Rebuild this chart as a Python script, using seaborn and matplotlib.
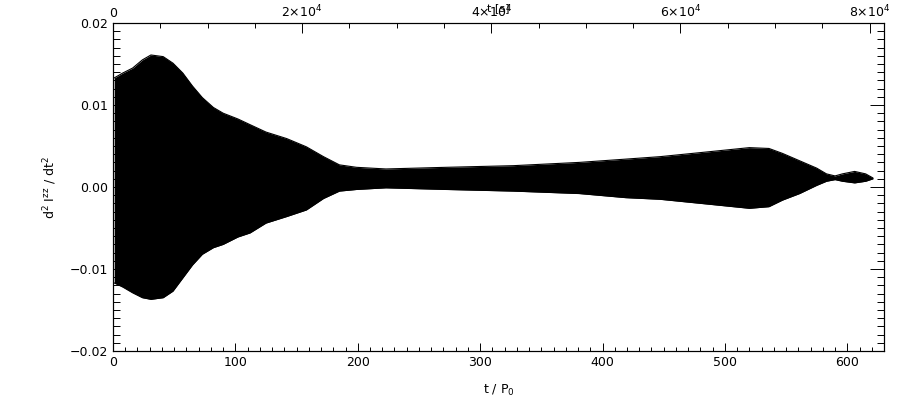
import numpy as np
import pandas as pd
import matplotlib
matplotlib.use('Agg')
import matplotlib.pyplot as plt
from matplotlib.ticker import MultipleLocator, FuncFormatter
import seaborn as sns

# envelope of the d2I/dt2 signal
t_p0 = [1, 8, 16, 24, 31, 41, 49, 57, 65, 73, 82, 90, 102, 112, 125, 142, 158, 172,
        185, 199, 223, 272, 327, 381, 419, 447, 487, 520, 536, 547, 561, 575, 583,
        590, 596, 606, 615, 621]
upper = [0.0133, 0.0139, 0.0145, 0.0155, 0.0161, 0.0159, 0.0151, 0.0139, 0.0123,
         0.0109, 0.0097, 0.0090, 0.0083, 0.0076, 0.0067, 0.0059, 0.0049, 0.0037,
         0.0027, 0.0024, 0.0022, 0.0024, 0.0026, 0.0030, 0.0034, 0.0037, 0.0043,
         0.0048, 0.0047, 0.0041, 0.0032, 0.0023, 0.0016, 0.00135, 0.0016, 0.0019,
         0.0016, 0.0011]
lower = [-0.0117, -0.0122, -0.0129, -0.0135, -0.0137, -0.0135, -0.0127, -0.0111,
         -0.0095, -0.0082, -0.0074, -0.0070, -0.0061, -0.0056, -0.0044, -0.0036,
         -0.0028, -0.0014, -0.0005, -0.0003, -0.0001, -0.0003, -0.0005, -0.0008,
         -0.0013, -0.0015, -0.0021, -0.0026, -0.0024, -0.0016, -0.0008, 0.0002,
         0.0007, 0.0009, 0.0007, 0.0005, 0.0007, 0.0010]

P0 = 129.4  # seconds per orbital period (top axis conversion)
t_max = 630

df = pd.DataFrame({'t': t_p0, 'upper': upper, 'lower': lower})

sns.set_style('ticks')
plt.rcParams['font.family'] = ['DejaVu Sans']
plt.rcParams['mathtext.default'] = 'regular'
plt.rcParams['font.size'] = 9
for k in ['text.color', 'axes.labelcolor', 'xtick.color', 'ytick.color', 'axes.edgecolor']:
    plt.rcParams[k] = 'black'

fig = plt.figure(figsize=(9, 4), dpi=100)
ax = fig.add_axes([113 / 900, 49 / 400, 771 / 900, 328 / 400])

ax.fill_between(df['t'], df['lower'], df['upper'], color='black', linewidth=0)
sns.lineplot(data=df, x='t', y='upper', ax=ax, color='black', linewidth=0.8)
sns.lineplot(data=df, x='t', y='lower', ax=ax, color='black', linewidth=0.8)

ax.set_xlim(0, t_max)
ax.set_ylim(-0.02, 0.02)
ax.xaxis.set_major_locator(MultipleLocator(100))
ax.xaxis.set_minor_locator(MultipleLocator(10))
ax.yaxis.set_major_locator(MultipleLocator(0.01))
ax.yaxis.set_minor_locator(MultipleLocator(0.001))
ax.yaxis.set_major_formatter(FuncFormatter(lambda v, p: f'{v:.2f}'.replace('-', '\u2212')))

ax.tick_params(axis='x', which='major', direction='in', length=5.8, width=0.7, top=False)
ax.tick_params(axis='x', which='minor', direction='in', length=2.9, width=0.7, top=False)
ax.tick_params(axis='y', which='major', direction='in', length=10, width=0.7, right=True)
ax.tick_params(axis='y', which='minor', direction='in', length=5, width=0.7, right=True)
for s in ax.spines.values():
    s.set_linewidth(0.8)
    s.set_visible(True)

ax.set_xlabel('t / P$_0$')
ax.set_ylabel('d$^2$ I$^{zz}$ / dt$^2$')
ax.xaxis.set_label_coords(0.5, -0.098)
ax.yaxis.set_label_coords(-0.07, 0.5)

# top axis in seconds
ax2 = ax.twiny()
ax2.set_xlim(0, t_max * P0)
ax2.xaxis.set_major_locator(MultipleLocator(20000))
ax2.xaxis.set_minor_locator(MultipleLocator(5000))


def sec_fmt(v, p):
    if v == 0:
        return '0'
    return r'$%d{\times}10^{4}$' % round(v / 1e4)


ax2.xaxis.set_major_formatter(FuncFormatter(sec_fmt))
ax2.tick_params(axis='x', which='major', direction='in', length=7, width=0.7, pad=2)
ax2.tick_params(axis='x', which='minor', direction='in', length=3.6, width=0.7)
ax2.set_xlabel('t [s]', fontsize=8)
ax2.xaxis.set_label_coords(0.5, 1.037)

fig.savefig('out.png', dpi=100)
